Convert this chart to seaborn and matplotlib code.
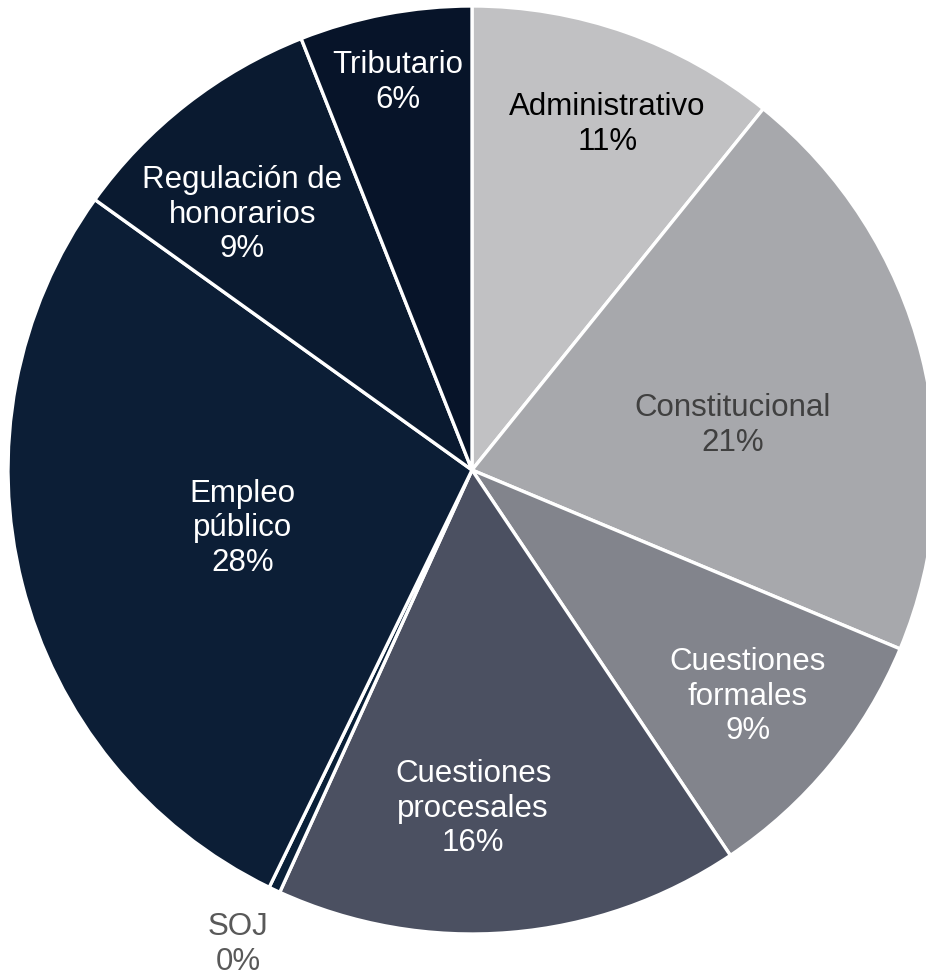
import numpy as np
import matplotlib
matplotlib.use("Agg")
import matplotlib.pyplot as plt
import seaborn as sns

# Data (share of cases, %)
categories = ["Administrativo", "Constitucional", "Cuestiones\nformales",
              "Cuestiones\nprocesales", "SOJ", "Empleo\npúblico",
              "Regulación de\nhonorarios", "Tributario"]
values = [10.8, 20.5, 9.3, 16.2, 0.4, 27.7, 9.1, 6.0]
shown_pct = ["11%", "21%", "9%", "16%", "0%", "28%", "9%", "6%"]

colors = ["#c1c1c3", "#a7a8ac", "#82848c", "#4b5061",
          "#0a2038", "#0c1e36", "#0a1a30", "#071429"]
text_colors = ["black", "#404040", "white", "white",
               "#595959", "white", "white", "white"]
# label placement: radial fraction of radius, and angle shift (deg, clockwise)
label_r = [0.80, 0.57, 0.77, 0.73, 1.14, 0.51, 0.74, 0.85]
label_shift = [2, 4.5, 0, 4.5, 1, 0, -4, 0]

sns.set_theme(style="white")
plt.rcParams["font.family"] = ["Liberation Sans", "DejaVu Sans"]

fig = plt.figure(figsize=(9.26, 9.76), dpi=100)
ax = fig.add_axes([0, 0, 1, 1])

wedges, _ = ax.pie(values, startangle=90, counterclock=False, colors=colors,
                   wedgeprops=dict(edgecolor="white", linewidth=2.4))

for w, cat, pct, tc, r, s in zip(wedges, categories, shown_pct, text_colors,
                                  label_r, label_shift):
    mid = np.deg2rad((w.theta1 + w.theta2) / 2 - s)
    ax.text(r * np.cos(mid), r * np.sin(mid), f"{cat}\n{pct}",
            ha="center", va="center", color=tc, fontsize=22.5, linespacing=1.2)

ax.set_xlim(-472 / 464, 454 / 464)
ax.set_ylim(-506 / 464, 470 / 464)
ax.set_aspect("auto")
ax.axis("off")

fig.savefig("out.png", dpi=100)
